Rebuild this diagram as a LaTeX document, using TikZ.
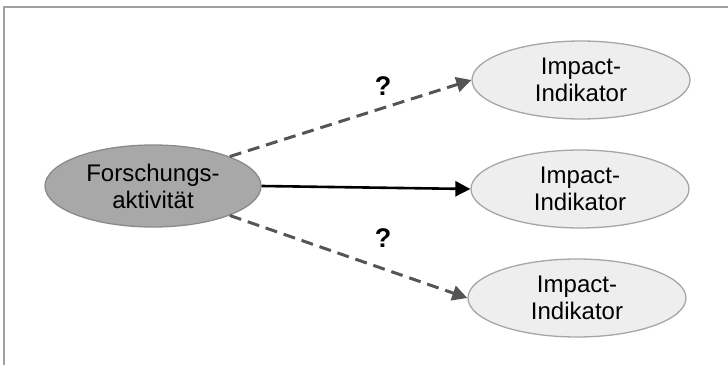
\documentclass[tikz,border=0pt]{standalone}
\usepackage{fontspec}
\setmainfont{Liberation Sans}
\usetikzlibrary{shapes.geometric,arrows.meta}
\definecolor{framegray}{HTML}{A0A0A0}
\definecolor{lightfill}{HTML}{EEEEEE}
\definecolor{lightedge}{HTML}{A6A6A6}
\definecolor{darkfill}{HTML}{A8A8A8}
\definecolor{darkedge}{HTML}{8A8A8A}
\definecolor{dashgray}{HTML}{555555}
\tikzset{
  ell/.style={ellipse, draw=lightedge, line width=1.3pt, fill=lightfill, minimum width=218pt, minimum height=78pt, inner sep=0pt, align=center, font=\fontsize{24}{27}\selectfont},
  srcell/.style={ell, fill=darkfill, draw=darkedge, minimum width=216pt, minimum height=82pt},
  dasharrow/.style={draw=dashgray, line width=3pt, dash pattern=on 12pt off 7pt, -{Triangle[length=15pt,width=15pt]}},
  solidarrow/.style={draw=black, line width=2.6pt, -{Triangle[length=15pt,width=15pt]}},
  qmark/.style={font=\fontsize{27}{30}\selectfont\bfseries}
}
\begin{document}
\begin{tikzpicture}[x=1pt,y=-1pt]
\useasboundingbox (0,0) rectangle (728,364);
\draw[framegray, line width=1.5pt] (4,370) -- (4,7) -- (735,7);
\node[srcell] (s) at (153,186) {Forschungs-\\aktivität};
\node[ell] (t) at (581,80) {Impact-\\Indikator};
\node[ell] (m) at (580,189) {Impact-\\Indikator};
\node[ell] (b) at (577,298) {Impact-\\Indikator};
\draw[dasharrow] (s.21) -- (t.west);
\draw[solidarrow] (s.east) -- (m.west);
\draw[dasharrow] (s.-21) -- (b.west);
\node[qmark] (q1) at (383,86) {?};
\node[qmark] (q2) at (383,238) {?};
\end{tikzpicture}
\end{document}
